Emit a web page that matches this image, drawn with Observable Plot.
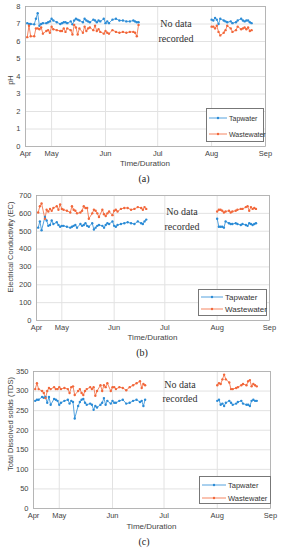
<!DOCTYPE html>
<html><head><meta charset="utf-8">
<script src="https://cdn.jsdelivr.net/npm/d3@7"></script>
<script src="https://cdn.jsdelivr.net/npm/@observablehq/plot@0.6"></script>
<style>
body{margin:0;background:#fff;width:289px;height:550px;position:relative;overflow:hidden;font-family:"Liberation Sans",Arial,sans-serif;}
.panel{position:absolute;left:0;}
.nodata{position:absolute;font-family:"Liberation Serif","Times New Roman",serif;font-size:10px;color:#333;transform:translate(-50%,-50%);white-space:nowrap;}
.cap{position:absolute;font-family:"Liberation Serif","Times New Roman",serif;font-size:10px;color:#222;transform:translate(-50%,-50%);}
.xlab{position:absolute;font-size:8px;color:#444;transform:translate(-50%,-50%);white-space:nowrap;line-height:1;}
.ylab{position:absolute;font-size:7.5px;color:#444;transform:translate(-50%,-50%) rotate(-90deg);white-space:nowrap;}
.legend{position:absolute;border:0.8px solid #777;background:#fff;box-sizing:border-box;}
.legend .row{position:absolute;left:2px;display:flex;align-items:center;color:#333;white-space:nowrap;}
</style></head><body>
<script>
// ---- data ----
const dates1 = ["2019-04-17","2019-04-18","2019-04-19","2019-04-21","2019-04-22","2019-04-23","2019-04-24","2019-04-25","2019-04-26","2019-04-28","2019-04-29","2019-04-30","2019-05-01","2019-05-02","2019-05-04","2019-05-06","2019-05-07","2019-05-08","2019-05-09","2019-05-10","2019-05-12","2019-05-13","2019-05-14","2019-05-15","2019-05-16","2019-05-17","2019-05-19","2019-05-20","2019-05-21","2019-05-22","2019-05-23","2019-05-25","2019-05-26","2019-05-27","2019-05-28","2019-05-29","2019-05-31","2019-06-01","2019-06-02","2019-06-03","2019-06-05","2019-06-07","2019-06-09","2019-06-11","2019-06-13","2019-06-15","2019-06-17","2019-06-18","2019-06-19","2019-06-20"];
const dates2 = ["2019-08-01","2019-08-02","2019-08-03","2019-08-04","2019-08-05","2019-08-06","2019-08-08","2019-08-09","2019-08-10","2019-08-12","2019-08-13","2019-08-15","2019-08-16","2019-08-18","2019-08-19","2019-08-20","2019-08-21","2019-08-22","2019-08-23","2019-08-24"];

const phTap1 = [7.05,7.0,7.0,6.98,7.3,7.62,6.9,7.0,7.05,7.05,7.1,7.15,7.3,7.2,7.1,7.0,7.05,7.1,7.1,7.05,7.15,6.98,7.2,7.3,7.25,7.2,7.1,7.3,7.2,7.15,7.1,7.25,7.2,7.1,7.2,7.15,7.3,7.05,7.15,7.05,7.25,7.3,7.2,7.2,7.15,7.15,7.2,7.15,7.1,7.1];
const phWaste1 = [6.25,6.9,6.3,6.3,6.75,6.75,6.7,6.8,6.45,6.6,6.65,6.5,6.85,6.7,6.65,6.6,6.6,6.75,6.55,6.75,6.65,6.4,6.95,6.8,6.4,6.75,6.5,6.85,6.6,6.75,6.8,6.65,6.9,6.6,6.7,6.55,6.45,6.6,6.5,6.45,6.65,6.55,6.5,6.55,6.5,6.55,6.55,6.5,6.3,6.95];
const phTap2 = [7.25,7.2,7.35,7.25,7.0,7.3,7.2,7.15,7.1,7.15,7.05,7.1,7.2,7.3,7.2,7.15,7.2,7.2,7.1,7.05];
const phWaste2 = [6.85,6.85,6.75,6.9,6.55,6.35,6.5,6.65,6.9,6.75,6.55,6.65,6.85,6.7,6.75,6.8,6.7,6.8,6.6,6.65];

const ecTap1 = [520,555,505,580,560,530,535,560,540,550,535,525,530,530,525,520,525,530,535,520,540,530,535,545,530,525,545,510,520,530,535,530,520,535,545,540,555,530,525,535,540,545,550,545,540,555,545,540,555,565];
const ecWaste1 = [605,640,655,570,620,610,625,615,630,640,620,650,625,620,615,605,640,620,615,600,605,615,640,630,630,570,600,620,615,600,580,620,595,585,600,610,590,615,620,610,625,630,630,620,625,635,630,620,635,625];
const ecTap2 = [570,525,525,525,520,555,545,540,540,545,540,535,540,535,530,545,540,535,540,545];
const ecWaste2 = [610,620,620,615,605,610,615,605,610,615,620,625,625,635,640,615,635,625,630,625];

const tdsTap1 = [275,278,278,285,283,285,270,285,265,280,278,275,265,270,275,278,268,275,272,230,262,272,278,280,270,265,268,265,252,262,258,265,270,282,265,275,268,275,270,270,275,278,268,270,275,278,272,275,262,278];
const tdsWaste1 = [305,320,305,300,295,282,300,308,305,310,305,305,310,305,308,305,295,310,312,290,300,305,295,290,300,305,310,305,310,288,300,315,300,315,310,320,300,310,310,305,310,308,302,310,315,320,325,308,318,315];
const tdsTap2 = [275,278,265,268,262,270,275,270,265,268,272,275,268,265,265,262,275,278,275,275];
const tdsWaste2 = [315,320,318,330,342,330,322,305,305,308,310,315,318,315,325,328,312,318,315,312];

const seriesNames = ["Tapwater","Wastewater"];
const seriesColors = ["#2a8bd6","#f2673a"];
const xTickDates = ["2019-04-16","2019-05-01","2019-06-01","2019-07-01","2019-08-01","2019-09-01"];
const xTickLabels = ["Apr","May","Jun","Jul","Aug","Sep"];
const xDomain = ["2019-04-16","2019-09-01"];
const phTicks = [0,1,2,3,4,5,6,7,8];
const ecTicks = [0,100,200,300,400,500,600,700];
const tdsTicks = [0,50,100,150,200,250,300,350];

// ---- build ----
const P = s => new Date(s + "T00:00:00Z");
const tickD = xTickDates.map(P);
function rows(t1, w1, t2, w2) {
  const out = [];
  const add = (dates, vals, s, seg) => dates.forEach((d, i) => out.push({date: P(d), value: vals[i], series: s, seg}));
  add(dates1, t1, seriesNames[0], 1); add(dates2, t2, seriesNames[0], 2);
  add(dates1, w1, seriesNames[1], 1); add(dates2, w2, seriesNames[1], 2);
  return out;
}

const panels = [
  {top:0, h:165, mL:25, mR:24, mT:6, mB:19, ticks:phTicks, data:rows(phTap1,phWaste1,phTap2,phWaste2),
   ylab:"pH", ylabY:80, xlabY:164, capY:178, cap:"(a)", capX:144, nd:[176,23,38],
   leg:{x:206,y:108,w:58,h:34,r1:9,r2:25,fs:7,lw:18}},
  {top:180, h:165, mL:36, mR:20, mT:15, mB:25, ticks:ecTicks, data:rows(ecTap1,ecWaste1,ecTap2,ecWaste2),
   ylab:"Electrical Conductivity (EC)", ylabY:247, xlabY:337.5, capY:352, cap:"(b)", capX:142, nd:[182,211,226],
   leg:{x:198,y:289,w:69,h:27,r1:7,r2:19,fs:8,lw:22}},
  {top:360, h:170, mL:33, mR:19, mT:11, mB:22, ticks:tdsTicks, data:rows(tdsTap1,tdsWaste1,tdsTap2,tdsWaste2),
   ylab:"Total Dissolved solids (TDS)", ylabY:424, xlabY:527, capY:541, cap:"(c)", capX:144, nd:[180,384,398],
   leg:{x:199,y:476,w:72,h:28,r1:8,r2:21,fs:7.5,lw:24}}
];

function el(cls, text, x, y, extra) {
  const d = document.createElement("div");
  d.className = cls; d.textContent = text;
  d.style.left = x + "px"; d.style.top = y + "px";
  if (extra) Object.assign(d.style, extra);
  document.body.appendChild(d);
  return d;
}

panels.forEach(p => {
  const chart = Plot.plot({
    width: 289, height: p.h,
    marginLeft: p.mL, marginRight: p.mR, marginTop: p.mT, marginBottom: p.mB,
    style: {fontFamily: "'Liberation Sans', Arial, sans-serif", fontSize: "7.5px", color: "#444", background: "transparent"},
    x: {type: "utc", domain: xDomain.map(P)},
    y: {domain: [p.ticks[0], p.ticks[p.ticks.length - 1]]},
    color: {domain: seriesNames, range: seriesColors},
    marks: [
      Plot.gridX({ticks: tickD, stroke: "#e2e2e2", strokeOpacity: 1}),
      Plot.gridY({ticks: p.ticks, stroke: "#e2e2e2", strokeOpacity: 1}),
      Plot.frame({stroke: "#aaa", strokeWidth: 0.8}),
      Plot.axisX({ticks: tickD, tickSize: 0, tickPadding: 4.5, label: null,
        tickFormat: d => xTickLabels[tickD.findIndex(t => +t === +d)]}),
      Plot.axisY({ticks: p.ticks, tickSize: 0, tickPadding: 5, label: null}),
      Plot.line(p.data, {x: "date", y: "value", stroke: "series", z: d => d.series + d.seg, strokeWidth: 0.8}),
      Plot.dot(p.data, {x: "date", y: "value", fill: "series", r: 1.2, stroke: "none"})
    ]
  });
  const wrap = document.createElement("div");
  wrap.className = "panel"; wrap.style.top = p.top + "px";
  wrap.appendChild(chart);
  document.body.appendChild(wrap);

  el("ylab", p.ylab, 10, p.ylabY);
  el("xlab", "Time/Duration", (p.mL + 289 - p.mR) / 2, p.xlabY);
  el("cap", p.cap, p.capX, p.capY);
  el("nodata", "No data", p.nd[0], p.nd[1]);
  el("nodata", "recorded", p.nd[0], p.nd[2]);

  const L = p.leg;
  const box = document.createElement("div");
  box.className = "legend";
  Object.assign(box.style, {left: L.x + "px", top: L.y + "px", width: L.w + "px", height: L.h + "px"});
  seriesNames.forEach((s, i) => {
    const row = document.createElement("div");
    row.className = "row";
    row.style.top = (i ? L.r2 : L.r1) - 5 + "px";
    row.style.height = "10px";
    row.style.fontSize = L.fs + "px";
    row.innerHTML = `<svg width="${L.lw}" height="10" style="margin-right:2px"><line x1="0" x2="${L.lw}" y1="5" y2="5" stroke="${seriesColors[i]}" stroke-width="0.8"/><circle cx="${L.lw/2}" cy="5" r="1.2" fill="${seriesColors[i]}"/></svg><span>${s}</span>`;
    box.appendChild(row);
  });
  document.body.appendChild(box);
});
</script></body></html>
